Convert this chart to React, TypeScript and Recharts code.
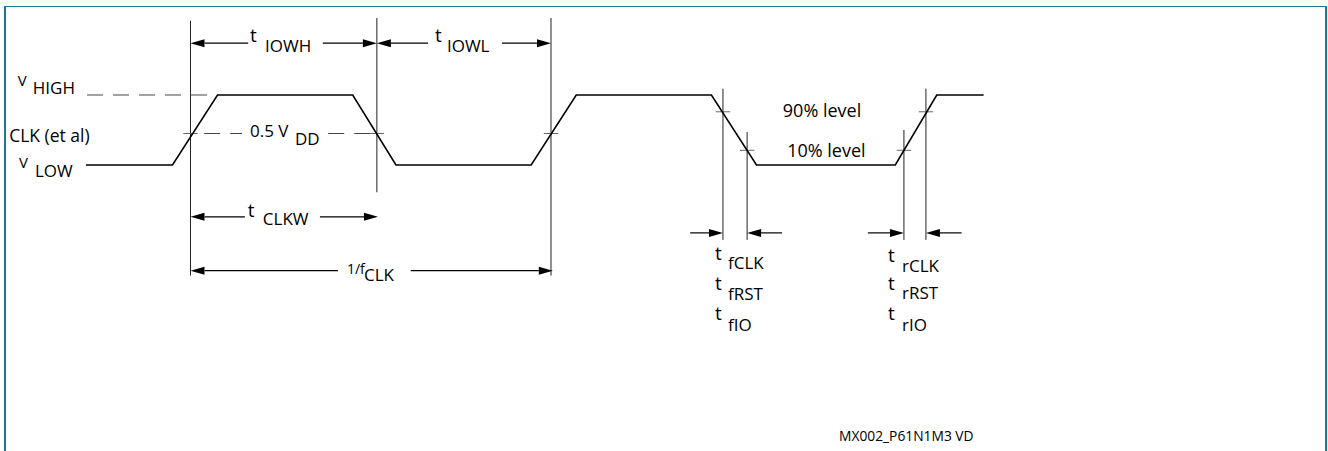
import React from "react";
import { ComposedChart, Line, XAxis, YAxis, ReferenceLine, ReferenceDot } from "recharts";

const W = 1328;
const H = 451;
const FONT = "'Open Sans', 'Noto Sans', sans-serif";

// time axis: 100 units = one clock period (1/fCLK); level axis: 0 = V LOW, 1 = V HIGH
const X_DOMAIN = [-52.84, 315.53];
const Y_DOMAIN = [-4.086, 2.357];

// clock waveform corners
const waveT = [-29, -5, 7.5, 45, 57, 94.5, 107, 144.5, 157, 195.5, 207, 220];
const waveV = [0, 0, 1, 1, 0, 0, 1, 1, 0, 0, 1, 1];
const wave = waveT.map((t, i) => ({ t, v: waveV[i] }));

const MID = 0.45;
const LEVEL_90 = 0.76;
const LEVEL_10 = 0.21;

// vertical timing edges
const edgeT = [0, 51.7, 100, 147.7, 154.4, 197.9, 204];
const edgeTop = [2.06, 2.1, 2.1, 1.09, 0.47, 0.5, 1.09];
const edgeBottom = [-1.58, -0.39, -1.58, -1.07, -1.07, -1.07, -1.07];

// level crossing ticks
const tickT = [0, 51.7, 100, 147.7, 154.4, 197.9, 204];
const tickV = [MID, MID, MID, LEVEL_90, LEVEL_10, LEVEL_10, LEVEL_90];
const TICK_HALF = 2;

// dashed reference levels
const dashes = [
  { from: -28.7, to: 7.5, v: 1 },
  { from: 3.8, to: 14.3, v: MID },
  { from: 38.2, to: 49.8, v: MID },
];

// dimension arrows (tail -> head)
const ROW_TOP = 1.74;
const ROW_CLKW = -0.74;
const ROW_PERIOD = -1.51;
const ROW_EDGE = -0.97;
const arrows = [
  { from: 16, to: 0, v: ROW_TOP },
  { from: 36.7, to: 51.7, v: ROW_TOP },
  { from: 65.9, to: 51.7, v: ROW_TOP },
  { from: 86.4, to: 100, v: ROW_TOP },
  { from: 15.1, to: 0, v: ROW_CLKW },
  { from: 35.9, to: 52, v: ROW_CLKW },
  { from: 40.9, to: 0, v: ROW_PERIOD },
  { from: 61.1, to: 100.5, v: ROW_PERIOD },
  { from: 138.6, to: 147.7, v: ROW_EDGE },
  { from: 164.1, to: 154.4, v: ROW_EDGE },
  { from: 187.9, to: 197.9, v: ROW_EDGE },
  { from: 213.9, to: 204, v: ROW_EDGE },
];

// labels with a small raised prefix and a lowered main part
const symbols = [
  { t: -47.9, v: 1.13, pre: "V", sub: "HIGH", dx: 15, dy: 8, preSize: 15 },
  { t: -47.6, v: -0.04, pre: "V", sub: "LOW", dx: 16, dy: 9, preSize: 15 },
  { t: 16.5, v: 1.76, pre: "t", sub: "IOWH", dx: 15, dy: 10, preSize: 19 },
  { t: 67.8, v: 1.76, pre: "t", sub: "IOWL", dx: 12, dy: 10, preSize: 19 },
  { t: 15.9, v: -0.74, pre: "t", sub: "CLKW", dx: 15, dy: 8, preSize: 19 },
  { t: 43.4, v: -1.56, pre: "1/f", sub: "CLK", dx: 17, dy: 7, preSize: 14 },
  { t: 145.5, v: -1.36, pre: "t", sub: "fCLK", dx: 13, dy: 9, preSize: 19 },
  { t: 145.5, v: -1.79, pre: "t", sub: "fRST", dx: 13, dy: 10, preSize: 19 },
  { t: 145.5, v: -2.21, pre: "t", sub: "fIO", dx: 13, dy: 11, preSize: 19 },
  { t: 193.5, v: -1.39, pre: "t", sub: "rCLK", dx: 14, dy: 10, preSize: 19 },
  { t: 193.5, v: -1.79, pre: "t", sub: "rRST", dx: 14, dy: 9, preSize: 19 },
  { t: 193.5, v: -2.21, pre: "t", sub: "rIO", dx: 14, dy: 11, preSize: 19 },
];

const midLabel = { t: 16.5, v: 0.4, pre: "0.5 V", sub: "DD", dx: 45, dy: 8, preSize: 17 };

const plainLabels = [
  { t: -50.3, v: 0.33, text: "CLK (et al)", size: 17.5 },
  { t: 164.3, v: 0.69, text: "90% level", size: 18 },
  { t: 165.5, v: 0.11, text: "10% level", size: 18 },
  { t: 179.9, v: -3.94, text: "MX002_P61N1M3 VD", size: 13.8 },
];

const Arrow = (p: any) => {
  const { x1, y1, x2, y2 } = p;
  const dir = Math.sign(x2 - x1);
  const L = 14;
  const hw = 4;
  return (
    <g>
      <line x1={x1} y1={y1} x2={x2 - dir * L} y2={y2} stroke="#000" strokeWidth={1.2} />
      <polygon points={`${x2},${y2} ${x2 - dir * L},${y2 - hw} ${x2 - dir * L},${y2 + hw}`} fill="#000" />
    </g>
  );
};

const symbolShape = (s: { pre: string; sub: string; dx: number; dy: number; preSize: number }) => (p: any) => (
  <g fontFamily={FONT} fill="#000">
    <text x={p.cx} y={p.cy} fontSize={s.preSize}>{s.pre}</text>
    <text x={p.cx + s.dx} y={p.cy + s.dy} fontSize={17}>{s.sub}</text>
  </g>
);

const App = () => {
  return (
    <div style={{ position: "absolute", left: 0, top: 0, width: W, height: H, overflow: "hidden", background: "#fff" }}>
      <div
        style={{
          position: "absolute",
          left: 4,
          top: 6,
          width: 1323,
          height: 470,
          boxSizing: "border-box",
          borderTop: "1.5px solid #1b7a8e",
          borderLeft: "2px solid #1b7a8e",
          borderRight: "2px solid #1b7a8e",
        }}
      />
      <div style={{ position: "absolute", left: 0, top: 0 }}>
        <ComposedChart width={W} height={H} data={wave} margin={{ top: 0, right: 0, bottom: 0, left: 0 }}>
          <XAxis dataKey="t" type="number" domain={X_DOMAIN} allowDataOverflow hide />
          <YAxis type="number" domain={Y_DOMAIN} allowDataOverflow hide />
          {dashes.map((d, i) => (
            <ReferenceLine
              key={`d${i}`}
              segment={[{ x: d.from, y: d.v }, { x: d.to, y: d.v }]}
              stroke="#444"
              strokeWidth={1}
              strokeDasharray="16 10"
            />
          ))}
          {edgeT.map((t, i) => (
            <ReferenceLine
              key={`e${i}`}
              segment={[{ x: t, y: edgeTop[i] }, { x: t, y: edgeBottom[i] }]}
              stroke="#222"
              strokeWidth={1}
            />
          ))}
          {tickT.map((t, i) => (
            <ReferenceLine
              key={`k${i}`}
              segment={[{ x: t - TICK_HALF, y: tickV[i] }, { x: t + TICK_HALF, y: tickV[i] }]}
              stroke="#666"
              strokeWidth={1}
            />
          ))}
          <Line
            dataKey="v"
            type="linear"
            stroke="#000"
            strokeWidth={1.6}
            dot={false}
            activeDot={false}
            isAnimationActive={false}
          />
          {arrows.map((a, i) => (
            <ReferenceLine
              key={`a${i}`}
              segment={[{ x: a.from, y: a.v }, { x: a.to, y: a.v }]}
              shape={Arrow}
            />
          ))}
          {symbols.map((s, i) => (
            <ReferenceDot key={`s${i}`} x={s.t} y={s.v} shape={symbolShape(s)} />
          ))}
          <ReferenceDot x={midLabel.t} y={midLabel.v} shape={symbolShape(midLabel)} />
          {plainLabels.map((l, i) => (
            <ReferenceDot
              key={`p${i}`}
              x={l.t}
              y={l.v}
              shape={(p: any) => (
                <text x={p.cx} y={p.cy} fontFamily={FONT} fontSize={l.size} fill="#000">
                  {l.text}
                </text>
              )}
            />
          ))}
        </ComposedChart>
      </div>
    </div>
  );
};

export default App;
